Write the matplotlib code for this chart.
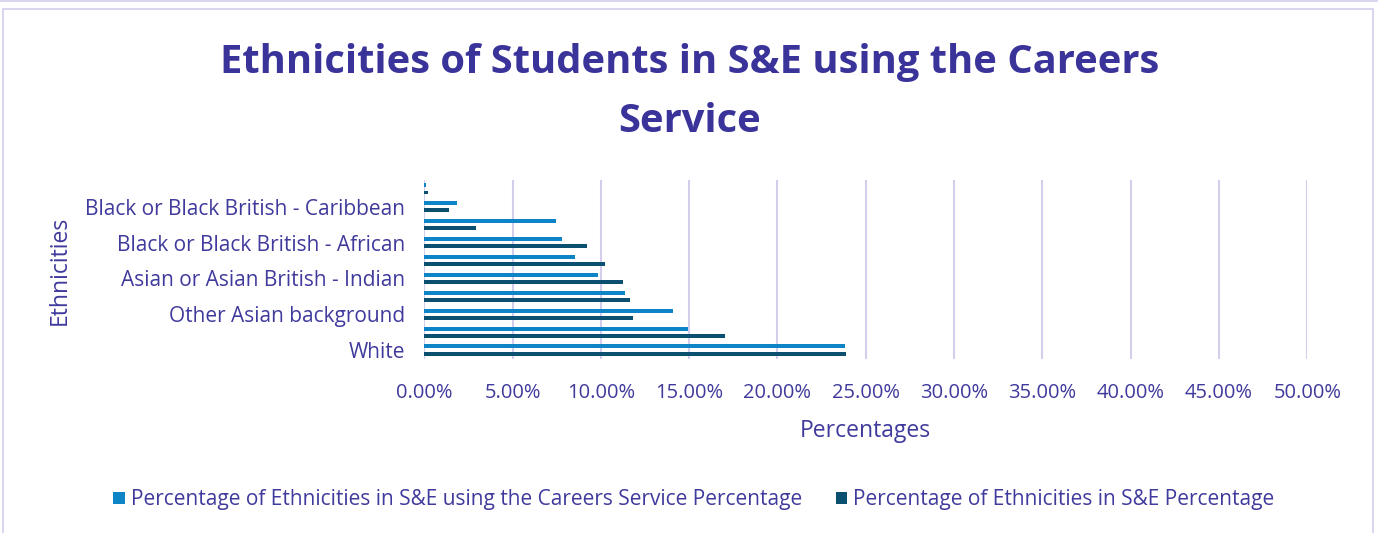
import matplotlib.pyplot as plt
from matplotlib.patches import Rectangle
from matplotlib.ticker import PercentFormatter
import numpy as np

# categories bottom -> top (only every other one is labelled in the original)
ethnicities = ["White", "Asian or Asian British - Pakistani", "Other Asian background",
               "Chinese", "Asian or Asian British - Indian", "Mixed background",
               "Black or Black British - African", "Other Black background",
               "Black or Black British - Caribbean", "Other background"]
shown_labels = [True, False, True, False, True, False, True, False, True, False]

careers_pct = [23.85, 14.91, 14.11, 11.34, 9.85, 8.51, 7.77, 7.43, 1.83, 0.08]
all_pct = [23.90, 17.00, 11.79, 11.64, 11.28, 10.26, 9.19, 2.94, 1.38, 0.19]

series_names = ["Percentage of Ethnicities in S&E using the Careers Service Percentage",
                "Percentage of Ethnicities in S&E Percentage"]

TEXT = "#3F3A9C"
TITLE = "#3A3399"
GRID = "#D3CEEC"
LIGHT = "#0C84C6"
DARK = "#0B4F71"
FONT = "Open Sans"

plt.rcParams['font.family'] = [FONT, 'DejaVu Sans']

fig = plt.figure(figsize=(13.78, 5.33), dpi=100)
ax = fig.add_axes([0.3079, 0.3265, 0.6408, 0.3358])

y = np.arange(len(ethnicities))
ax.barh(y + 0.2, careers_pct, height=0.22, color=LIGHT, label=series_names[0])
ax.barh(y - 0.2, all_pct, height=0.22, color=DARK, label=series_names[1])

ax.set_xlim(0, 50)
ax.set_ylim(-0.5, len(ethnicities) - 0.5)
ax.set_xticks(np.arange(0, 51, 5))
ax.xaxis.set_major_formatter(PercentFormatter(decimals=2))
ax.set_yticks(y)
ax.set_yticklabels([e if s else "" for e, s in zip(ethnicities, shown_labels)])
ax.tick_params(length=0, labelcolor=TEXT)
ax.tick_params(axis='y', pad=14, labelsize=15)
ax.tick_params(axis='x', pad=17, labelsize=14.5)

ax.grid(axis='x', color=GRID, lw=1.5)
ax.set_axisbelow(True)
for s in ax.spines.values():
    s.set_visible(False)

ax.set_xlabel("Percentages", fontsize=16.5, color=TEXT, labelpad=12)
fig.text(60 / 1378, 1 - 270 / 533, "Ethnicities", rotation=90, fontsize=16.5,
         color=TEXT, ha='center', va='center')

fig.text(690 / 1378, 1 - 63 / 533, "Ethnicities of Students in S&E using the Careers",
         fontsize=28.7, fontweight='bold', color=TITLE, ha='center', va='center')
fig.text(690 / 1378, 1 - 122 / 533, "Service",
         fontsize=28.7, fontweight='bold', color=TITLE, ha='center', va='center')

fig.legend(loc='center', bbox_to_anchor=(694 / 1378, 1 - 500 / 533), ncol=2, frameon=False,
           fontsize=15, labelcolor=TEXT, handlelength=0.55, handleheight=0.55,
           handletextpad=0.3, columnspacing=1.6)

# chart border
fig.add_artist(Rectangle((3 / 1378, -0.01), 1370 / 1378, 1 - 9 / 533 + 0.01,
                         transform=fig.transFigure, fill=False, ec=GRID, lw=1.2))
fig.add_artist(plt.Line2D([0, 1], [0.998, 0.998], transform=fig.transFigure,
                          color=GRID, lw=1.2))

fig.savefig("out.png", dpi=100)
